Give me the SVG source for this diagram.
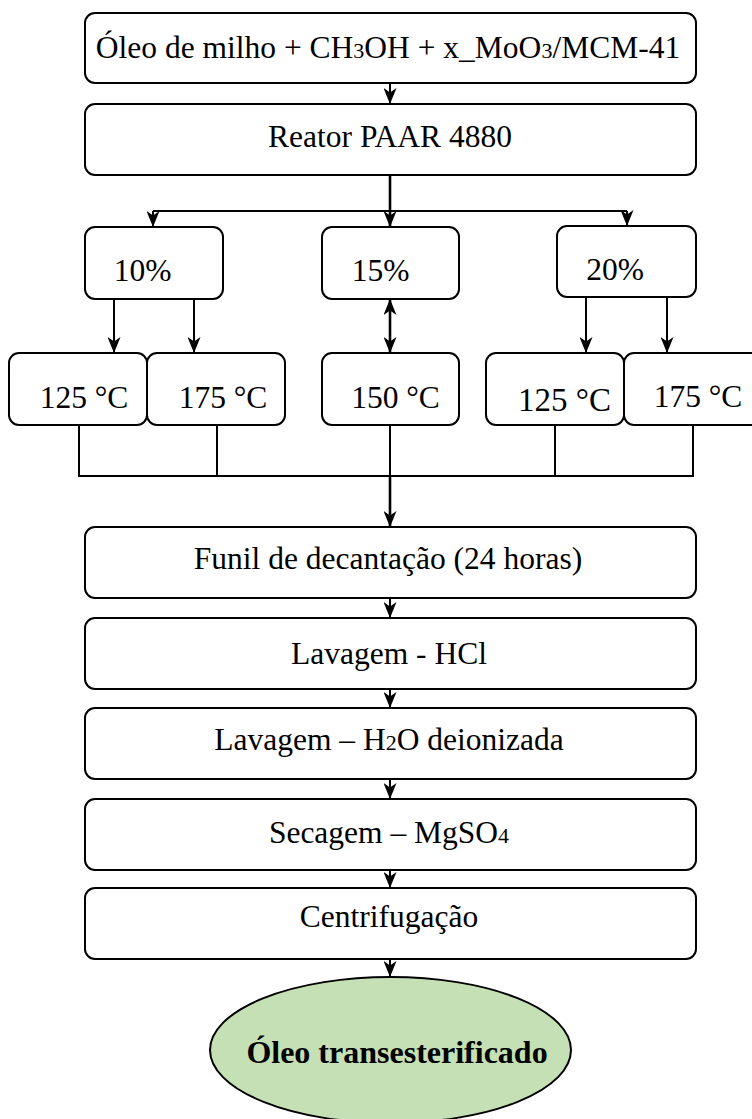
<svg xmlns="http://www.w3.org/2000/svg" width="752" height="1119" viewBox="0 0 752 1119">
<style>
.box{fill:#ffffff;stroke:#000000;stroke-width:2}
.t{font-family:"Liberation Serif","Times New Roman",serif;font-size:31.5px;fill:#000000;text-anchor:middle}
.sub{font-size:22px}
.c{fill:none;stroke:#000000;stroke-width:2}
.c3{fill:none;stroke:#000000;stroke-width:2.6}
.ell{fill:#c5e0b4;stroke:#000000;stroke-width:2}
.b{font-weight:bold;font-size:32px}
</style>
<defs>
<marker id="ah" viewBox="0 0 16 13" refX="16" refY="6.5" markerWidth="16" markerHeight="13" markerUnits="userSpaceOnUse" orient="auto-start-reverse">
<path d="M0,0 L16,6.5 L0,13 L4.5,6.5 z" fill="#000000"/>
</marker>
</defs>
<rect x="0" y="0" width="752" height="1119" fill="#ffffff"/>

<g id="connectors">
<line class="c" x1="390" y1="83" x2="390" y2="104" marker-end="url(#ah)"/>
<polyline class="c3" points="390,175 390,211"/>
<line class="c" x1="153" y1="211" x2="627" y2="211"/>
<line class="c" x1="153" y1="211" x2="153" y2="227" marker-end="url(#ah)"/>
<line class="c3" x1="390" y1="211" x2="390" y2="227" marker-end="url(#ah)"/>
<line class="c" x1="627" y1="211" x2="627" y2="226" marker-end="url(#ah)"/>
<line class="c" x1="114" y1="299" x2="114" y2="353" marker-end="url(#ah)"/>
<line class="c" x1="194" y1="299" x2="194" y2="353" marker-end="url(#ah)"/>
<line class="c3" x1="390" y1="299" x2="390" y2="353" marker-start="url(#ah)" marker-end="url(#ah)"/>
<line class="c" x1="586" y1="297" x2="586" y2="353" marker-end="url(#ah)"/>
<line class="c" x1="667" y1="297" x2="667" y2="353" marker-end="url(#ah)"/>
<polyline class="c" points="79,425 79,476 693,476 693,425"/>
<line class="c" x1="217" y1="425" x2="217" y2="476"/>
<line class="c" x1="555" y1="425" x2="555" y2="476"/>
<line class="c" x1="390" y1="425" x2="390" y2="476"/>
<line class="c3" x1="390" y1="476" x2="390" y2="527" marker-end="url(#ah)"/>
<line class="c" x1="390" y1="598" x2="390" y2="618" marker-end="url(#ah)"/>
<line class="c" x1="390" y1="689" x2="390" y2="708" marker-end="url(#ah)"/>
<line class="c" x1="390" y1="779" x2="390" y2="799" marker-end="url(#ah)"/>
<line class="c" x1="390" y1="870" x2="390" y2="888" marker-end="url(#ah)"/>
<line class="c" x1="390" y1="959" x2="390" y2="977" marker-end="url(#ah)"/>
</g>

<g id="n-input">
<rect class="box" x="85" y="13" width="611" height="70" rx="10"/>
<text class="t" x="388" y="58">Óleo de milho + CH<tspan class="sub">3</tspan>OH + x_MoO<tspan class="sub">3</tspan>/MCM-41</text>
</g>
<g id="n-reator">
<rect class="box" x="85" y="104" width="611" height="71" rx="10"/>
<text class="t" x="390" y="147">Reator PAAR 4880</text>
</g>

<g id="n-10">
<rect class="box" x="85" y="227" width="138" height="72" rx="10"/>
<text class="t" x="142.5" y="281">10%</text>
</g>
<g id="n-15">
<rect class="box" x="322" y="227" width="137" height="72" rx="10"/>
<text class="t" x="380.5" y="281">15%</text>
</g>
<g id="n-20">
<rect class="box" x="557" y="226" width="139" height="71" rx="10"/>
<text class="t" x="615" y="280">20%</text>
</g>

<g id="n-10-125">
<rect class="box" x="9" y="353" width="138" height="72" rx="10"/>
<text class="t" x="84" y="408">125 °C</text>
</g>
<g id="n-10-175">
<rect class="box" x="147" y="353" width="138" height="72" rx="10"/>
<text class="t" x="223" y="408">175 °C</text>
</g>
<g id="n-15-150">
<rect class="box" x="322" y="353" width="137" height="72" rx="10"/>
<text class="t" x="395.5" y="408">150 °C</text>
</g>
<g id="n-20-125">
<rect class="box" x="486" y="353" width="138" height="72" rx="10"/>
<text class="t" x="564.5" y="411" style="font-size:33px">125 °C</text>
</g>
<g id="n-20-175">
<rect class="box" x="624" y="353" width="138" height="72" rx="10"/>
<text class="t" x="698" y="407">175 °C</text>
</g>

<g id="n-funil">
<rect class="box" x="85" y="527" width="611" height="71" rx="10"/>
<text class="t" x="388" y="569">Funil de decantação (24 horas)</text>
</g>
<g id="n-hcl">
<rect class="box" x="85" y="618" width="611" height="71" rx="10"/>
<text class="t" x="389" y="664">Lavagem - HCl</text>
</g>
<g id="n-h2o">
<rect class="box" x="85" y="708" width="611" height="71" rx="10"/>
<text class="t" x="389" y="750">Lavagem – H<tspan class="sub">2</tspan>O deionizada</text>
</g>
<g id="n-secagem">
<rect class="box" x="85" y="799" width="611" height="71" rx="10"/>
<text class="t" x="389" y="843">Secagem – MgSO<tspan class="sub">4</tspan></text>
</g>
<g id="n-centrif">
<rect class="box" x="85" y="888" width="611" height="71" rx="10"/>
<text class="t" x="389" y="927">Centrifugação</text>
</g>
<g id="n-final">
<ellipse class="ell" cx="390.5" cy="1050" rx="180.5" ry="73"/>
<text class="t b" x="397" y="1063">Óleo transesterificado</text>
</g>
</svg>
